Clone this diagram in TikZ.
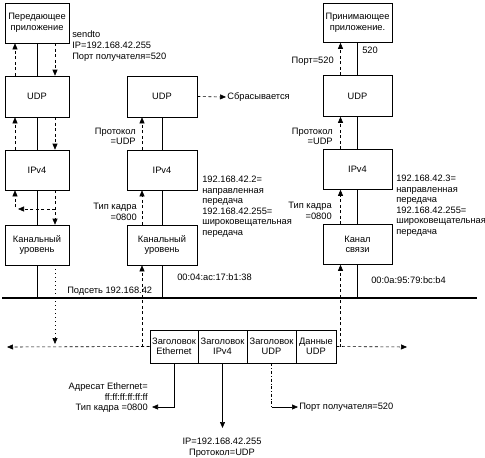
\documentclass[tikz,border=0pt]{standalone}
\usepackage{fontspec}
\setmainfont{Liberation Sans}
\usetikzlibrary{arrows.meta,positioning}
\begin{document}
\begin{tikzpicture}[x=1pt,y=-1pt,line width=0.6pt,
    font=\fontsize{9.3}{10.5}\selectfont]

    \tikzset{
      layer/.style={
        draw,
        align=center,
        minimum width=64pt,
        minimum height=40pt,
        inner sep=1pt,
      },
      field/.style={
        draw,
        align=center,
        minimum height=33pt,
        inner sep=0.3pt,
      },
      note/.style={inner sep=1pt},
      flow/.style={dash pattern=on 3pt off 2.5pt,-{Triangle[length=6pt,width=5pt]}},
      drop/.style={dash pattern=on 1pt off 3pt,-{Triangle[length=6pt,width=5pt]}},
      tip/.style={-{Triangle[length=6pt,width=5pt]}},
    }
    \useasboundingbox (0,0) rectangle (485,458);

    % sending host
    \node[layer] (sndApp) at (37,23) {Передающее\\приложение};
    \node[layer,minimum height=41pt] (sndUDP) at (37,96.5) {UDP};
    \node[layer] (sndIP) at (37,170) {IPv4};
    \node[layer] (sndLink) at (37,245) {Канальный\\уровень};

    % host 192.168.42.2
    \node[layer,minimum width=70pt,minimum height=41pt] (midUDP) at (162,96.5) {UDP};
    \node[layer,minimum width=70pt] (midIP) at (162,170) {IPv4};
    \node[layer,minimum width=70pt] (midLink) at (162,245) {Канальный\\уровень};

    % host 192.168.42.3
    \node[layer,minimum width=69pt,minimum height=39pt] (rcvApp) at (357.5,23) {Принимающее\\приложение.};
    \node[layer,minimum width=69pt,minimum height=41pt] (rcvUDP) at (357.5,96) {UDP};
    \node[layer,minimum width=69pt] (rcvIP) at (357.5,169.5) {IPv4};
    \node[layer,minimum width=69pt] (rcvLink) at (357.5,244.5) {Канал\\связи};

    \coordinate (netL) at (2,298);
    \coordinate (netR) at (477,298);
    \draw[line width=1.2pt] (netL) -- (netR);

    \draw (sndApp) -- (sndUDP);
    \draw (sndUDP) -- (sndIP);
    \draw (sndIP) -- (sndLink);
    \draw (sndLink.south) -- (sndLink.south |- netL);
    \draw (midUDP) -- (midIP);
    \draw (midIP) -- (midLink);
    \draw (midLink.south) -- (midLink.south |- netL);
    \draw (rcvApp) -- (rcvUDP);
    \draw (rcvUDP) -- (rcvIP);
    \draw (rcvIP) -- (rcvLink);
    \draw (rcvLink.south) -- (rcvLink.south |- netL);

    \draw[flow] ([xshift=-22pt]sndUDP.north) -- ([xshift=-22pt]sndApp.south);
    \draw[flow] ([xshift=18pt]sndApp.south) -- ([xshift=18pt]sndUDP.north);
    \draw[flow] ([xshift=-22pt]sndIP.north) -- ([xshift=-22pt]sndUDP.south);
    \draw[flow] ([xshift=18pt]sndUDP.south) -- ([xshift=18pt]sndIP.north);
    \draw[flow] ([xshift=18pt]sndIP.south) -- ([xshift=18pt]sndLink.north);
    \coordinate (loopR) at (55,209);
    \coordinate (loopTip) at (18,209);
    \coordinate (loopUp) at (15,207);
    \draw[flow] (loopR) -- (loopTip);
    \draw[flow] (loopUp) -- (loopUp |- sndIP.south);

    \draw[flow] ([xshift=-20pt]midIP.north) -- ([xshift=-20pt]midUDP.south);
    \draw[flow] ([xshift=-20pt]midLink.north) -- ([xshift=-20pt]midIP.south);
    \draw[flow] ([xshift=-17pt]rcvUDP.north) -- ([xshift=-17pt]rcvApp.south);
    \draw[flow] ([xshift=-17pt]rcvIP.north) -- ([xshift=-17pt]rcvUDP.south);
    \draw[flow] ([xshift=-17pt]rcvLink.north) -- ([xshift=-17pt]rcvIP.south);

    \node[note,anchor=west] (dropNote) at (226,97) {Сбрасывается};
    \draw[flow] (midUDP.east) -- (dropNote.west);

    % the frame on the wire
    \node[field,minimum width=48pt] (hdrEth) at (174,346.5) {Заголовок\\Ethernet};
    \node[field,minimum width=49pt,right=-0.6pt of hdrEth] (hdrIP) {Заголовок\\IPv4};
    \node[field,minimum width=49pt,right=-0.6pt of hdrIP] (hdrUDP) {Заголовок\\UDP};
    \node[field,minimum width=40pt,right=-0.6pt of hdrUDP] (udpData) {Данные\\UDP};

    \coordinate (busL) at (7,347);
    \coordinate (busR) at (407,347);
    \draw[flow] (hdrEth.west) -- (busL);
    \draw[flow] (udpData.east) -- (busR);
    \draw[drop,shorten >=3pt] ([xshift=18pt]sndLink.south) -- ([xshift=18pt]sndLink.south |- busL);
    \draw[flow] ([xshift=-20pt]midLink.south |- busL) -- ([xshift=-20pt]midLink.south);
    \draw[flow] ([xshift=-17pt]rcvLink.south |- busR) -- ([xshift=-17pt]rcvLink.south);

    % labels
    \node[note,anchor=west,align=left,font=\fontsize{9.3}{11}\selectfont] (sendNote) at (71,46)
      {sendto\\IP=192.168.42.255\\Порт получателя=520};
    \node[note,anchor=east,align=right] (protoMid) at (137,136.5) {Протокол\\=UDP};
    \node[note,anchor=east,align=right] (typeMid) at (138,212) {Тип кадра\\=0800};
    \node[note,anchor=west,align=left] (addrMid) at (201,206.5)
      {192.168.42.2=\\направленная\\передача\\192.168.42.255=\\широковещательная\\передача};
    \node[note,anchor=west] (macMid) at (176,277) {00:04:ac:17:b1:38};
    \node[note,anchor=west] (subnet) at (66,291) {Подсеть 192.168.42};

    \node[note,anchor=west] (portApp) at (361,50) {520};
    \node[note,anchor=east] (portNote) at (335,61) {Порт=520};
    \node[note,anchor=east,align=right] (protoRcv) at (334,136.5) {Протокол\\=UDP};
    \node[note,anchor=east,align=right] (typeRcv) at (333,211) {Тип кадра\\=0800};
    \node[note,anchor=west,align=left] (addrRcv) at (395,205.5)
      {192.168.42.3=\\направленная\\передача\\192.168.42.255=\\широковещательная\\передача};
    \node[note,anchor=west] (macRcv) at (370,280) {00:0a:95:79:bc:b4};

    % fields of the frame
    \coordinate (ethTip) at (152,407);
    \draw[tip] (hdrEth.south) |- (ethTip);
    \node[note,anchor=east,align=right] (ethNote) at (149,398)
      {Адресат Ethernet=\\ff:ff:ff:ff:ff:ff\\Тип кадра =0800};
    \coordinate (ipTip) at (222,428);
    \draw[tip] (hdrIP.south) -- (hdrIP.south |- ipTip);
    \node[note,align=center] (ipNote) at (222,447.5) {IP=192.168.42.255\\Протокол=UDP};
    \node[note,anchor=west] (udpNote) at (298,407) {Порт получателя=520};
    \draw[dash dot] (hdrUDP.south) -- (hdrUDP.south |- udpNote.west);
    \draw[tip] (hdrUDP.south |- udpNote.west) -- (udpNote.west);

\end{tikzpicture}
\end{document}
